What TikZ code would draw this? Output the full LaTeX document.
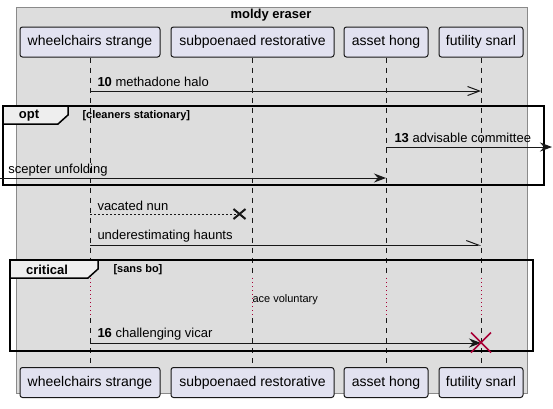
\documentclass[tikz,border=0pt]{standalone}
\usepackage{fontspec}
\setmainfont{Liberation Sans}
\usetikzlibrary{arrows.meta}
\definecolor{pfill}{HTML}{E2E2F0}
\definecolor{pline}{HTML}{181818}
\definecolor{boxgrey}{HTML}{DDDDDD}
\definecolor{boxline}{HTML}{8A8A8A}
\definecolor{tabfill}{HTML}{EEEEEE}
\definecolor{cred}{HTML}{A80036}
\tikzset{
  every picture/.style={x=1pt, y=-1pt, line width=1pt},
  part/.style={draw=pline, fill=pfill, rounded corners=2.5pt, minimum height=30pt, inner sep=0pt, font=\fontsize{14}{16}\selectfont},
  lifeline/.style={draw=pline, line width=0.6pt, dash pattern=on 5pt off 5pt},
  delayline/.style={draw=cred, line width=0.8pt, dash pattern=on 1pt off 3pt},
  msg/.style={draw=pline, line width=1pt},
  farrow/.style={msg, -{Stealth[length=12pt, width=9pt, inset=4pt]}},
  oarrow/.style={msg, -{Straight Barb[length=12pt, width=9pt]}},
  harrow/.style={msg, -{Straight Barb[length=12pt, width=9pt, left]}},
  msglabel/.style={font=\fontsize{13}{15}\selectfont, anchor=west, inner sep=0pt},
  fragment/.style={draw=black, line width=1.5pt},
  fragtab/.style={draw=black, line width=1.5pt, fill=tabfill},
  tablabel/.style={font=\bfseries\fontsize{13}{15}\selectfont, inner sep=0pt},
  cond/.style={font=\bfseries\fontsize{11}{13}\selectfont, anchor=west, inner sep=0pt},
}

\begin{document}
\begin{tikzpicture}
  \useasboundingbox[fill=white] (0,0) rectangle (553,408);
  % group box
  \draw[draw=boxline, fill=boxgrey, line width=0.8pt] (16,7) rectangle (527,393);
  \node[font=\bfseries\fontsize{13}{15}\selectfont] (grp) at (271,15) {moldy eraser};
  % participants, top and bottom
  \foreach \n/\t/\x/\w in {ws/wheelchairs strange/90/140, sr/subpoenaed restorative/252.5/163, ah/asset hong/386/84, fs/futility snarl/481/84} {
    \node[part, minimum width=\w pt] (\n T) at (\x,42) {\t};
    \node[part, minimum width=\w pt] (\n B) at (\x,382.5) {\t};
  }
  % lifelines
  \foreach \n in {ws,sr,ah,fs} {
    \draw[lifeline] (\n T.south) -- (\n T.south |- 0,278);
    \draw[delayline] (\n T.south |- 0,278) -- (\n T.south |- 0,318);
    \draw[lifeline] (\n T.south |- 0,318) -- (\n B.north);
  }
  % opt fragment
  \draw[fragment] (3,106) rectangle (544,185);
  \draw[fragtab] (3,106) -- (68,106) -- (68,115) -- (58,124) -- (3,124) -- cycle;
  \node[tablabel] (optlbl) at (29,115.5) {opt};
  \node[cond] (optcond) at (82,115.5) {[cleaners stationary]};
  % critical fragment
  \draw[fragment] (10,260) rectangle (533,351);
  \draw[fragtab] (10,260) -- (98,260) -- (98,269) -- (88,278) -- (10,278) -- cycle;
  \node[tablabel] (critlbl) at (47,269.5) {critical};
  \node[cond] (critcond) at (113,269.5) {[sans bo]};
  % messages
  \draw[oarrow] (wsT.south |- 0,91) -- (fsT.south |- 0,91);
  \node[msglabel] (l10) at (97,82) {\textbf{10} methadone halo};
  \coordinate (rim) at (552,147);
  \draw[farrow] (ahT.south |- 0,147) -- (rim);
  \node[msglabel] (l13) at (394,138) {\textbf{13} advisable committee};
  \coordinate (lim) at (0,178);
  \draw[farrow] (lim) -- (ahT.south |- 0,178);
  \node[msglabel] (lsc) at (8,170) {scepter unfolding};
  \coordinate (xnun) at (239.5,214);
  \draw[msg, dash pattern=on 2pt off 2pt] (wsT.south |- 0,214) -- (xnun);
  \draw[pline, line width=2pt] ([shift={(-6,-5)}]xnun) -- ([shift={(6,5)}]xnun)
    ([shift={(-6,5)}]xnun) -- ([shift={(6,-5)}]xnun);
  \node[msglabel] (lvn) at (97,206) {vacated nun};
  \draw[harrow] (wsT.south |- 0,245) -- (fsT.south |- 0,245);
  \node[msglabel] (luh) at (97,236) {underestimating haunts};
  % delay
  \node[font=\fontsize{11}{13}\selectfont, anchor=west, inner sep=0pt] (dly) at (252,300) {ace voluntary};
  \draw[farrow] (wsT.south |- 0,343) -- (fsT.south |- 0,343);
  \node[msglabel] (l16) at (97,334) {\textbf{16} challenging vicar};
  \coordinate (xfs) at (fsT.south |- 0,342.5);
  \draw[cred, line width=1.6pt] ([shift={(-10,-10)}]xfs) -- ([shift={(10,10)}]xfs)
    ([shift={(-10,10)}]xfs) -- ([shift={(10,-10)}]xfs);
\end{tikzpicture}
\end{document}
